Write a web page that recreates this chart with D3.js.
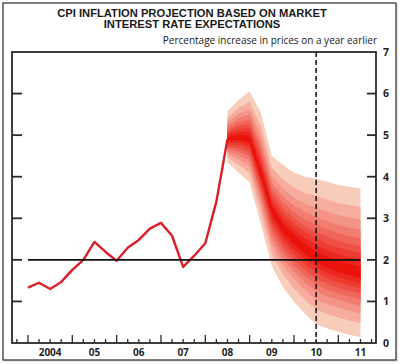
<!DOCTYPE html>
<html><head><meta charset="utf-8">
<script src="https://cdn.jsdelivr.net/npm/d3@7"></script>
<style>html,body{margin:0;padding:0;background:#fff;}svg{display:block;}</style>
</head><body>
<svg id="c" width="400" height="364"></svg>
<script>
// ---- data ----
const histTimes = [2004.0,2004.25,2004.5,2004.75,2005.0,2005.25,2005.5,2005.75,2006.0,2006.25,2006.5,2006.75,2007.0,2007.25,2007.5,2007.75,2008.0,2008.25,2008.5];
const histValues = [1.33,1.45,1.30,1.47,1.76,2.00,2.43,2.19,1.98,2.29,2.48,2.75,2.89,2.58,1.83,2.10,2.40,3.40,4.90];
const fanTimes = [2008.5,2008.75,2009.0,2009.25,2009.5,2009.75,2010.0,2010.25,2010.5,2010.75,2011.0,2011.25,2011.5];
const fanCentral = [4.90,4.95,4.90,4.10,3.20,2.75,2.48,2.25,2.07,1.93,1.83,1.75,1.68];
const fanUpper90 = [5.57,5.85,6.05,5.55,4.50,4.28,4.10,4.00,3.95,3.88,3.80,3.76,3.72];
const fanLower90 = [4.34,4.10,3.86,2.87,1.85,1.35,0.99,0.70,0.45,0.35,0.27,0.20,0.14];
// probability bands 90%..10% as share of the 90% half-width (normal quantiles)
const bandShares = [1.0,0.779,0.630,0.511,0.410,0.320,0.235,0.154,0.076];
const yearTicks = [2004,2005,2006,2007,2008,2009,2010,2011];
const yearLabels = ["2004","05","06","07","08","09","10","11"];
const yTickValues = [0,1,2,3,4,5,6,7];
const targetRate = 2;
const dashedLineTime = 2010.5;
const titleLines = ["CPI INFLATION PROJECTION BASED ON MARKET","INTEREST RATE EXPECTATIONS"];
const subtitle = "Percentage increase in prices on a year earlier";

// ---- layout ----
const svg = d3.select("#c");
const L = 12, R = 376, T = 52, B = 343;
const x = d3.scaleLinear().domain([2003.64, 2011.85]).range([L, R]);
const y = d3.scaleLinear().domain([0, 7]).range([B, T]);

// outer frame
svg.append("rect").attr("x",4).attr("y",4).attr("width",394).attr("height",358).attr("fill","#e6e6e6");
svg.append("rect").attr("x",3).attr("y",3).attr("width",393).attr("height",357).attr("fill","#fff").attr("stroke","#3a3a3a").attr("stroke-width",1.3);

// titles
svg.selectAll("text.title").data(titleLines).join("text")
  .attr("class","title").attr("x",192).attr("y",(d,i)=>17+i*11)
  .attr("text-anchor","middle").attr("font-family","Liberation Sans, Arial, sans-serif")
  .attr("font-weight","bold").attr("font-size",11.2).attr("fill","#1a1a1a").text(d=>d);
svg.append("text").attr("x",377).attr("y",44).attr("text-anchor","end")
  .attr("font-family","Open Sans, sans-serif").attr("font-size",10).attr("fill","#1a1a1a").text(subtitle);

// fan
const bandColor = d3.interpolateRgb("#f9cdbc", "#ea130c");
const fanData = fanTimes.map((t,i)=>({t, c:fanCentral[i], u:fanUpper90[i], l:fanLower90[i]}));
bandShares.forEach((s,k)=>{
  const area = d3.area()
    .x(d=>x(d.t))
    .y0(d=>y(d.c - s*(d.c-d.l)))
    .y1(d=>y(d.c + s*(d.u-d.c)));
  svg.append("path").datum(fanData).attr("d",area)
    .attr("fill", bandColor(Math.pow(k/(bandShares.length-1),0.85)));
});

// history line
const hist = histTimes.map((t,i)=>({t, v:histValues[i]}));
svg.append("path").datum(hist)
  .attr("d", d3.line().x(d=>x(d.t)).y(d=>y(d.v)))
  .attr("fill","none").attr("stroke","#dc1e26").attr("stroke-width",2.4).attr("stroke-linejoin","round");

// target line
svg.append("line").attr("x1",x(2004)).attr("x2",x(2011.5)).attr("y1",y(targetRate)).attr("y2",y(targetRate))
  .attr("stroke","#111").attr("stroke-width",1.8);

// dashed line
svg.append("line").attr("x1",x(dashedLineTime)).attr("x2",x(dashedLineTime)).attr("y1",T).attr("y2",B)
  .attr("stroke","#111").attr("stroke-width",1.5).attr("stroke-dasharray","5,3");

// plot frame
svg.append("rect").attr("x",L).attr("y",T).attr("width",R-L).attr("height",B-T)
  .attr("fill","none").attr("stroke","#2a2a2a").attr("stroke-width",1.8);

// x ticks (quarterly, inward)
const qTicks = d3.range(0, 33).map(i=>2003.75 + i*0.25).filter(t=>x(t) < R-2);
svg.selectAll("line.xt").data(qTicks).join("line").attr("class","xt")
  .attr("x1",d=>x(d)).attr("x2",d=>x(d)).attr("y1",B)
  .attr("y2",d=> Math.abs(d-Math.round(d))<1e-6 ? B-8 : B-4)
  .attr("stroke","#2a2a2a").attr("stroke-width",1.3);
svg.selectAll("text.xl").data(yearTicks).join("text").attr("class","xl")
  .attr("x",(d)=>x(d+0.5)).attr("y",356).attr("text-anchor","middle")
  .attr("font-family","Open Sans, sans-serif").attr("font-weight",700).attr("font-size",10).attr("fill","#1f1f1f")
  .text((d,i)=>yearLabels[i]);

// y ticks, both sides inward
const inner = yTickValues.filter(v=>v>0 && v<7);
svg.selectAll("line.yl").data(inner).join("line").attr("class","yl")
  .attr("x1",L).attr("x2",L+10).attr("y1",d=>y(d)).attr("y2",d=>y(d))
  .attr("stroke","#2a2a2a").attr("stroke-width",1.8);
svg.selectAll("line.yr").data(inner).join("line").attr("class","yr")
  .attr("x1",R-9).attr("x2",R).attr("y1",d=>y(d)).attr("y2",d=>y(d))
  .attr("stroke","#2a2a2a").attr("stroke-width",1.8);
svg.selectAll("text.yt").data(yTickValues).join("text").attr("class","yt")
  .attr("x",386).attr("y",d=>y(d)+3.8).attr("text-anchor","middle")
  .attr("font-family","Open Sans, sans-serif").attr("font-weight",700).attr("font-size",10.5).attr("fill","#1f1f1f")
  .text(d=>d);
</script>
</body></html>
